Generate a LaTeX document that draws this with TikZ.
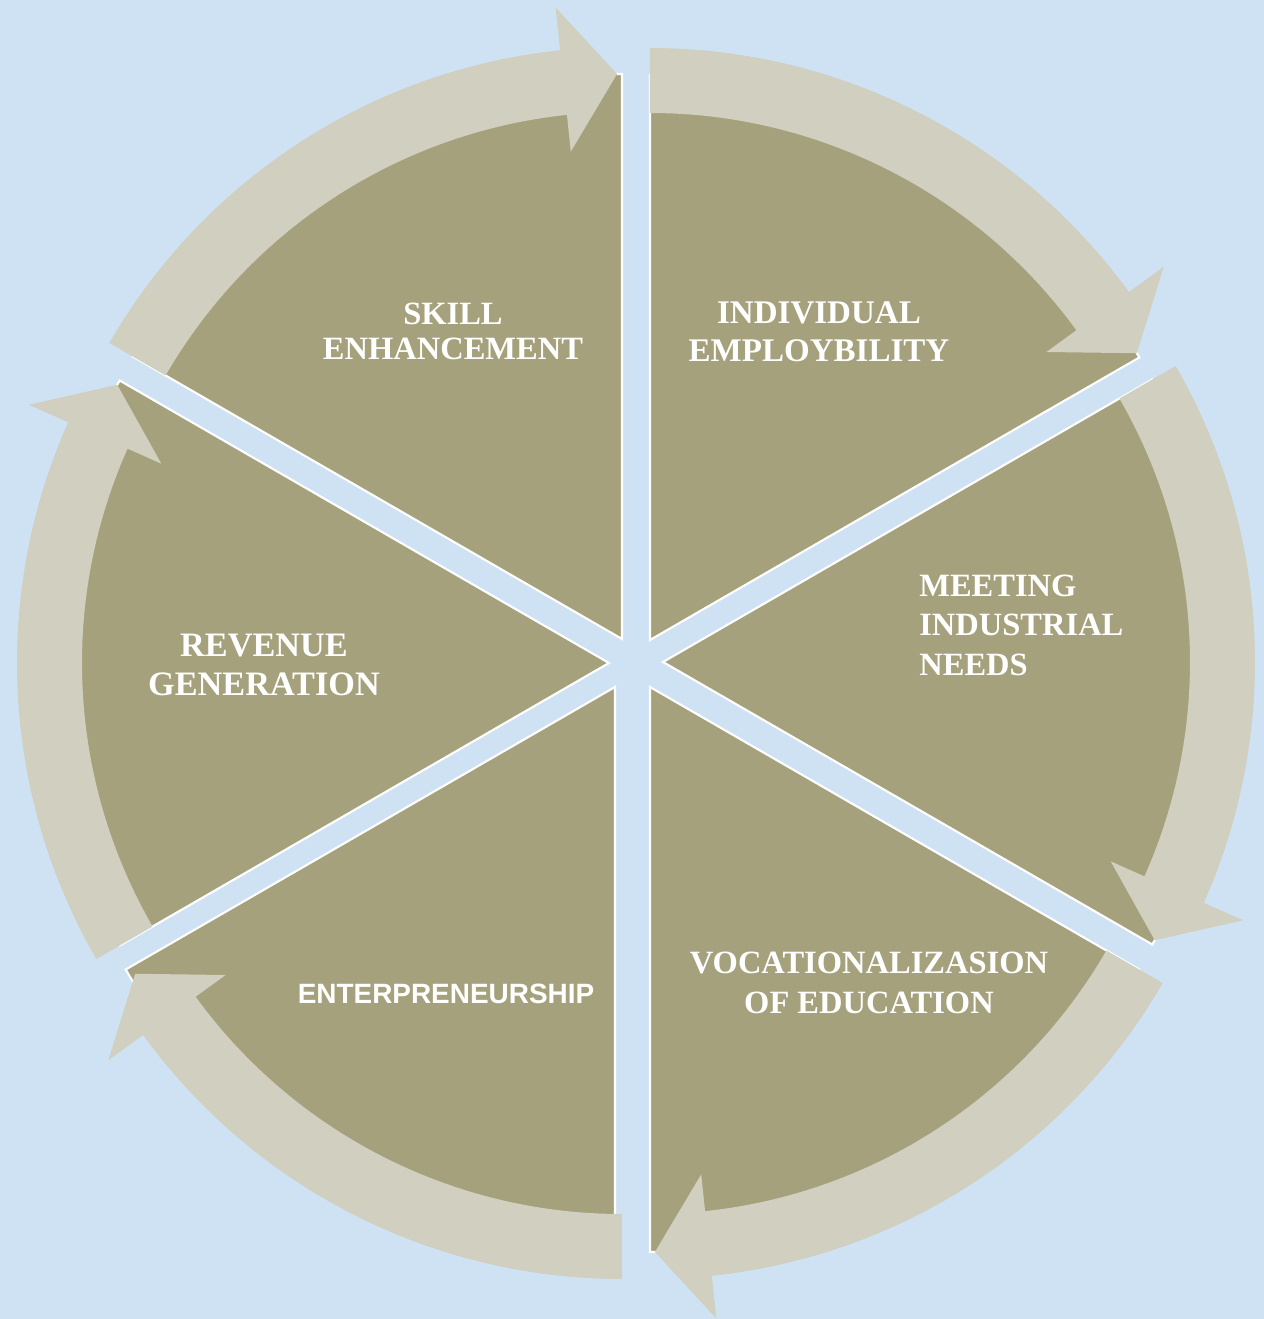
\documentclass[tikz,border=0pt]{standalone}
\usepackage{fontspec}
\setmainfont{Liberation Serif}
\newfontfamily\labelsans{Liberation Sans}
\usepackage{tikz}
\usepackage{xcolor}
\definecolor{cyclebg}{RGB}{207, 226, 243}
\definecolor{cycleolive}{RGB}{165, 161, 124}
\definecolor{cyclearrow}{RGB}{208, 207, 192}
\tikzset{
    segment/.style={fill=cycleolive, draw=white, line width=1.2pt, line join=miter},
    ringarrow/.style={fill=cyclearrow},
    seglabel/.style={text=white, align=center, inner sep=0pt, font=\bfseries\fontsize{18.5}{22.5}\selectfont},
    sanslabel/.style={seglabel, font=\labelsans\bfseries\fontsize{15.9}{18}\selectfont}
}

\begin{document}
\begin{tikzpicture}[x=0.02cm, y=0.02cm]
    \fill[cyclebg] (-636,-656) rectangle (628,663);
    \useasboundingbox (-636,-656) rectangle (628,663);
    % pie segments
    \foreach \b/\sx/\sy in {60/14/23, 0/27/1, -60/14/-24, -120/-21/-24, 180/-27/0, 120/-14/24}
        \filldraw[segment] (\sx,\sy) -- ++(\b-30:565) arc[start angle=\b-30, end angle=\b+30, radius=565] -- cycle;
    % arrows round the ring, clockwise
    \foreach \b/\ax/\ay in {60/14/23, 0/27/1, -60/14/-24, -120/-14/-24, 180/-27/0, 120/-14/24}
        \fill[ringarrow, shift={(\ax,\ay)}] (\b+30:592) arc[start angle=\b+30, end angle=\b-24, radius=592]
            -- (\b-24:635) -- (\b-29.5:565) -- (\b-24:490) -- (\b-24:527)
            arc[start angle=\b-24, end angle=\b+30, radius=527] -- cycle;
    % labels
    \node[seglabel, font=\bfseries\fontsize{18.5}{20}\selectfont] (skill) at (-183,332) {SKILL\\ENHANCEMENT};
    \node[seglabel, font=\bfseries\fontsize{18.8}{21.5}\selectfont] (employ) at (183,331) {INDIVIDUAL\\EMPLOYBILITY};
    \node[seglabel, anchor=west, align=left] (industry) at (283,38) {MEETING\\INDUSTRIAL\\NEEDS};
    \node[seglabel] (vocation) at (233,-320) {VOCATIONALIZASION\\OF EDUCATION};
    \node[sanslabel] (enterprise) at (-190,-331) {ENTERPRENEURSHIP};
    \node[seglabel, font=\bfseries\fontsize{19.5}{22.5}\selectfont] (revenue) at (-372,-2) {REVENUE\\GENERATION};
\end{tikzpicture}
\end{document}
